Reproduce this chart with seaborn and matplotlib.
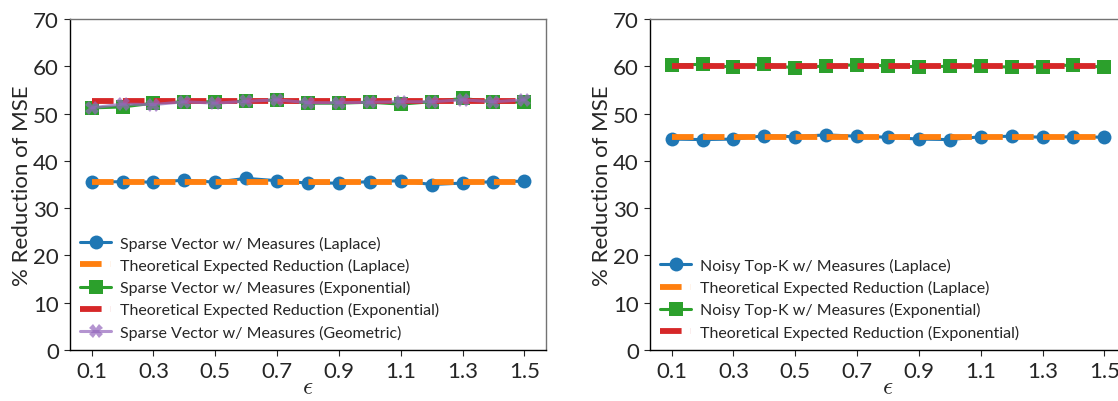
import numpy as np
import pandas as pd
import matplotlib
matplotlib.use("Agg")
import matplotlib.pyplot as plt
import seaborn as sns

# Privacy budget values
epsilon = [0.1, 0.2, 0.3, 0.4, 0.5, 0.6, 0.7, 0.8, 0.9, 1.0, 1.1, 1.2, 1.3, 1.4, 1.5]
tick_values = [0.1, 0.3, 0.5, 0.7, 0.9, 1.1, 1.3, 1.5]
tick_labels = ["0.1", "0.3", "0.5", "0.7", "0.9", "1.1", "1.3", "1.5"]

# Sparse Vector: measured and theoretical % reduction of MSE
sv_laplace = [35.5, 35.6, 35.5, 35.9, 35.5, 36.3, 35.8, 35.3, 35.3, 35.6, 35.8, 35.0, 35.3, 35.6, 35.7]
sv_laplace_theory = [35.6] * 15
sv_exponential = [51.2, 51.4, 52.2, 52.5, 52.5, 52.6, 52.9, 52.2, 52.2, 52.4, 52.0, 52.5, 53.2, 52.5, 52.4]
sv_exponential_theory = [52.6] * 15
sv_geometric = [51.2, 52.0, 51.9, 52.5, 52.2, 52.6, 52.9, 52.3, 52.3, 52.4, 52.5, 52.5, 52.9, 52.5, 52.9]

# Noisy Top-K: measured and theoretical % reduction of MSE
tk_laplace = [44.6, 44.5, 44.6, 45.3, 45.1, 45.5, 45.2, 45.0, 44.6, 44.5, 45.1, 45.2, 45.0, 45.1, 45.0]
tk_laplace_theory = [45.0] * 15
tk_exponential = [60.3, 60.4, 59.8, 60.5, 59.6, 60.1, 60.3, 60.1, 59.9, 60.0, 60.1, 59.8, 59.9, 60.3, 59.8]
tk_exponential_theory = [60.1] * 15

sns.set_style("ticks")
plt.rcParams["font.family"] = ["Lato", "DejaVu Sans"]
plt.rcParams["mathtext.fontset"] = "cm"

pal = sns.color_palette("tab10")
blue, orange, green, red, purple = pal[0], pal[1], pal[2], pal[3], pal[4]

W, H = 1118, 402
fig = plt.figure(figsize=(W / 100, H / 100), dpi=100)
ax1 = fig.add_axes([70 / W, 51 / H, 476 / W, 331 / H])
ax2 = fig.add_axes([650 / W, 51 / H, 476 / W, 331 / H])

meas_kw = dict(linewidth=2.2, markersize=10, markeredgewidth=0)
theo_kw = dict(linewidth=4.2, linestyle="--")


def draw(ax, series):
    for vals, label, color, marker, kind, alpha in series:
        if kind == "meas":
            sns.lineplot(x=epsilon, y=vals, ax=ax, color=color, marker=marker,
                         label=label, alpha=alpha, **meas_kw)
        else:
            sns.lineplot(x=epsilon, y=vals, ax=ax, color=color, label=label, **theo_kw)


draw(ax1, [
    (sv_laplace, "Sparse Vector w/ Measures (Laplace)", blue, "o", "meas", 1.0),
    (sv_laplace_theory, "Theoretical Expected Reduction (Laplace)", orange, None, "theo", 1.0),
    (sv_exponential, "Sparse Vector w/ Measures (Exponential)", green, "s", "meas", 1.0),
    (sv_exponential_theory, "Theoretical Expected Reduction (Exponential)", red, None, "theo", 1.0),
    (sv_geometric, "Sparse Vector w/ Measures (Geometric)", purple, "X", "meas", 0.7),
])
draw(ax2, [
    (tk_laplace, "Noisy Top-K w/ Measures (Laplace)", blue, "o", "meas", 1.0),
    (tk_laplace_theory, "Theoretical Expected Reduction (Laplace)", orange, None, "theo", 1.0),
    (tk_exponential, "Noisy Top-K w/ Measures (Exponential)", green, "s", "meas", 1.0),
    (tk_exponential_theory, "Theoretical Expected Reduction (Exponential)", red, None, "theo", 1.0),
])

for ax in (ax1, ax2):
    ax.set_ylim(0, 70)
    ax.set_yticks(range(0, 71, 10))
    ax.set_xticks(tick_values)
    ax.set_xticklabels(tick_labels)
    ax.tick_params(labelsize=16, length=4, width=0.8, pad=4)
    ax.set_xlabel(r"$\epsilon$", fontsize=18, labelpad=-5)
    ax.set_ylabel("% Reduction of MSE", fontsize=16, labelpad=1)
    for side in ("left", "bottom"):
        ax.spines[side].set_color("black")
        ax.spines[side].set_linewidth(1.0)
    for side in ("top", "right"):
        ax.spines[side].set_color("0.45")
        ax.spines[side].set_linewidth(1.0)
    ax.legend(loc="lower left", frameon=False, fontsize=11.5, handlelength=1.9,
              handletextpad=0.6, labelspacing=0.45, borderaxespad=0.35,
              borderpad=0.3)

fig.savefig("out.png", dpi=100)
